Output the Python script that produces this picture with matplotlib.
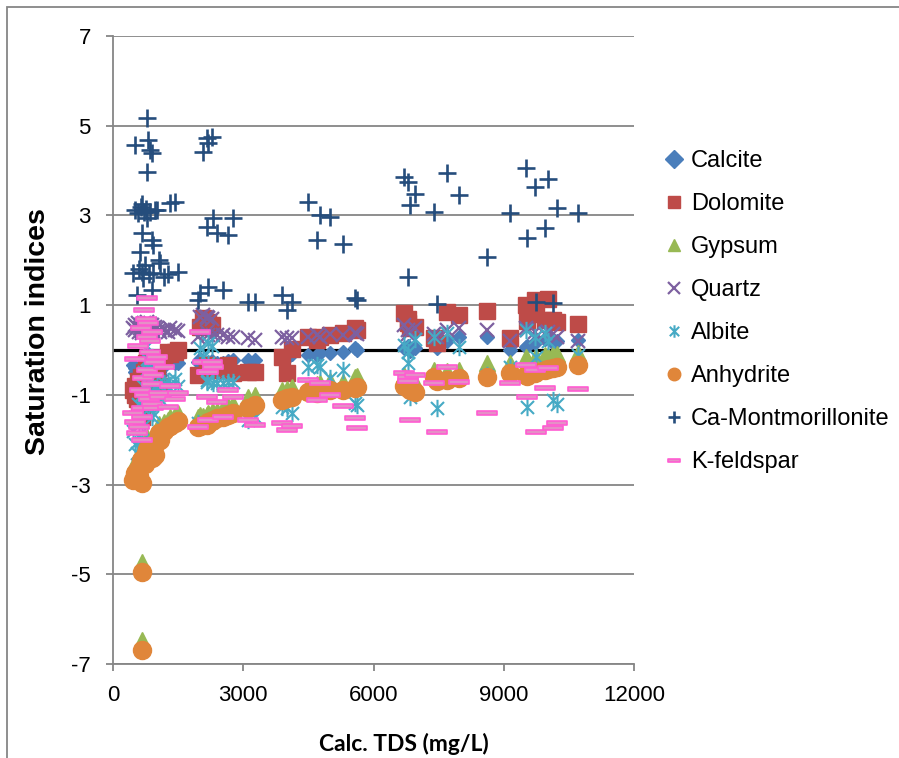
import matplotlib.pyplot as plt
from matplotlib.path import Path
from matplotlib.patches import Rectangle

# one entry per water sample: calculated TDS and saturation index of each mineral
tds = [460, 500, 507, 553, 576, 600, 622, 640, 668, 668, 668, 691, 720, 740, 760,
       783, 783, 783, 806, 820, 852, 852, 898, 898, 898, 921, 921, 967, 1013, 1060, 1082,
       1180, 1270, 1310, 1430, 1500,
       1960, 2004, 2073, 2165, 2188, 2165, 2188, 2280, 2303, 2395, 2533, 2648, 2763,
       3109, 3270, 3892, 4007, 4122,
       4490, 4700, 4770, 5000, 5290, 5580, 5620,
       6700, 6790, 6850, 6960, 6800, 7390, 7460, 7690, 7960, 8610, 9140, 9510, 9530,
       9720, 9740, 9950, 10020, 10130, 10230, 10710]

calcite = [-0.33, -0.50, -0.40, -0.60, -0.45, -0.70, -0.55, -0.35, -0.80, -0.90, -0.65, -0.40, -0.30, -0.50, -0.20,
           -0.45, -0.25, -0.15, -0.35, -0.60, -0.30, -0.40, -0.20, -0.55, -0.65, -0.45, -0.60, -0.40, -0.35, -0.50, -0.55,
           -0.35, -0.25, -0.20, -0.30, -0.28,
           -0.27, -0.20, -0.25, -0.30, -0.28, -0.35, -0.30, -0.25, -0.32, -0.30, -0.28, -0.25, -0.22,
           -0.22, -0.22, -0.22, -0.18, -0.10,
           -0.11, -0.11, -0.07, -0.07, -0.04, 0.04, 0.00,
           0.05, 0.10, -0.02, 0.05, 0.02, 0.20, 0.05, 0.20, 0.29, 0.29, 0.00, 0.07, 0.10,
           0.15, 0.20, 0.25, 0.30, 0.15, 0.20, 0.22]

dolomite = [-0.90, -0.80, -1.00, -1.10, -0.70, -1.20, -0.85, -0.60, -1.40, -1.50, -1.00, -0.70, -0.50, -0.90, -0.30,
            -0.75, -0.40, -0.20, -0.55, -1.00, -0.45, -0.60, -0.35, -0.90, -1.10, -0.75, -1.00, -0.65, -0.50, -0.80, -0.85,
            -0.22, -0.04, -0.10, -0.04, 0.00,
            -0.56, 0.51, 0.71, -0.45, 0.63, -0.33, -0.40, 0.55, -0.45, -0.45, -0.38, -0.33, -0.52,
            -0.49, -0.49, -0.15, -0.52, 0.03,
            0.29, 0.22, 0.29, 0.33, 0.38, 0.49, 0.45,
            0.82, 0.60, 0.50, 0.52, 0.70, 0.27, 0.15, 0.85, 0.78, 0.87, 0.27, 1.00, 0.65,
            1.11, 0.80, 0.67, 1.14, 0.67, 0.62, 0.58]

gypsum = [-2.70, -2.60, -2.50, -2.62, -2.40, -2.55, -2.38, -2.20, -4.72, -6.47, -2.75, -2.30, -2.20, -2.35, -2.10,
          -2.10, -2.00, -1.95, -2.05, -2.15, -2.05, -2.10, -2.00, -2.10, -2.20, -2.05, -2.10, -2.10, -1.85, -1.65, -1.80,
          -1.60, -1.55, -1.50, -1.45, -1.40,
          -1.50, -1.45, -1.48, -1.45, -1.42, -1.45, -1.40, -1.38, -1.38, -1.35, -1.30, -1.25, -1.20,
          -1.05, -1.00, -0.90, -0.88, -0.82,
          -0.78, -0.75, -0.73, -0.70, -0.71, -0.60, -0.58,
          -0.55, -0.62, -0.70, -0.72, -0.65, -0.45, -0.50, -0.47, -0.45, -0.29, -0.29, -0.16, -0.20,
          -0.18, -0.15, -0.12, -0.14, -0.10, -0.09, -0.07]

quartz = [0.50, 0.55, 0.45, 0.52, 0.60, 0.40, 0.48, 0.55, 0.42, 0.38, 0.50, 0.58, 0.60, 0.45, 0.55,
          0.50, 0.62, 0.55, 0.50, 0.45, 0.58, 0.50, 0.55, 0.45, 0.40, 0.48, 0.42, 0.52, 0.50, 0.45, 0.40,
          0.45, 0.40, 0.50, 0.45, 0.42,
          0.29, 0.74, 0.78, 0.74, 0.71, 0.40, 0.33, 0.70, 0.33, 0.33, 0.33, 0.30, 0.29,
          0.27, 0.22, 0.29, 0.27, 0.27,
          0.30, 0.33, 0.30, 0.35, 0.33, 0.38, 0.35,
          0.55, 0.45, 0.40, 0.48, 0.35, 0.35, 0.30, 0.45, 0.50, 0.45, 0.20, 0.50, 0.45,
          0.40, 0.30, 0.35, 0.40, 0.35, 0.30, 0.20]

albite = [-1.80, -2.10, -1.50, -2.30, -1.20, -1.90, -1.40, -1.00, -2.00, -2.20, -1.60, -0.80, -0.50, -1.10, -0.30,
          -0.90, -0.20, 0.10, -0.60, -1.30, -0.40, -0.70, -0.15, -1.20, -1.50, -0.95, -1.40, -0.85, -0.75, -1.00, -1.10,
          -0.74, -0.70, -0.85, -0.65, -0.80,
          -1.63, 0.04, -0.15, -0.71, 0.15, -0.67, -0.30, 0.10, -0.74, -0.74, -0.74, -0.71, -0.71,
          -1.56, -1.50, -1.27, -1.30, -1.40,
          -0.38, -0.33, -0.38, -0.62, -0.44, -1.18, -1.23,
          0.11, -0.05, -1.05, 0.25, -0.30, 0.30, -1.29, 0.38, 0.07, -0.56, -0.38, 0.45, -1.27,
          0.30, -0.15, 0.38, 0.20, -1.11, -1.20, -0.11]

anhydrite = [-2.90, -2.85, -2.75, -2.85, -2.65, -2.80, -2.60, -2.45, -4.95, -6.69, -2.96, -2.55, -2.40, -2.55, -2.30,
             -2.34, -2.25, -2.20, -2.28, -2.40, -2.30, -2.35, -2.25, -2.34, -2.40, -2.30, -2.38, -2.34, -2.05, -1.85, -2.00,
             -1.80, -1.72, -1.70, -1.62, -1.58,
             -1.72, -1.70, -1.67, -1.65, -1.62, -1.67, -1.60, -1.58, -1.55, -1.52, -1.50, -1.45, -1.40,
             -1.29, -1.23, -1.11, -1.07, -1.05,
             -0.93, -0.96, -0.89, -0.89, -0.89, -0.85, -0.82,
             -0.80, -0.85, -0.90, -0.93, -0.82, -0.60, -0.70, -0.67, -0.63, -0.60, -0.52, -0.56, -0.58,
             -0.52, -0.50, -0.44, -0.42, -0.40, -0.37, -0.33]

ca_mont = [1.72, 3.12, 4.57, 1.23, 3.05, 1.80, 2.18, 3.19, 2.61, 1.74, 3.25, 1.60, 3.08, 1.90, 3.15,
           2.94, 3.97, 5.17, 4.68, 1.70, 4.46, 3.08, 4.39, 2.45, 1.34, 2.34, 1.72, 3.12, 3.12, 2.00, 1.94,
           1.63, 1.70, 3.27, 3.30, 1.75,
           1.11, 1.27, 4.41, 4.73, 4.61, 2.74, 1.40, 4.75, 2.94, 2.61, 1.34, 2.56, 2.94,
           1.07, 1.07, 1.23, 0.89, 1.07,
           3.30, 2.45, 3.01, 2.97, 2.36, 1.16, 1.12,
           3.86, 3.75, 3.23, 3.48, 1.63, 3.08, 1.03, 3.95, 3.46, 2.07, 3.05, 4.06, 2.50,
           3.63, 1.07, 2.72, 3.81, 1.05, 3.17, 3.05]

k_feldspar = [-1.40, -1.60, -0.20, -1.85, 0.10, -1.72, -0.89, 0.50, -2.00, -1.50, -1.29, -0.62, 0.89, -1.00, 0.70,
              -0.45, 0.30, 1.16, 0.60, -1.10, 0.20, -0.04, 0.40, -0.75, -1.20, -0.55, -1.29, -0.27, -0.15, -0.95, -1.05,
              -0.38, -1.27, -0.80, -1.10, -0.95,
              -1.72, 0.40, -0.27, -0.49, -1.56, -1.05, -0.49, -0.27, -0.38, -1.16, -1.49, -0.89, -1.05,
              -1.56, -1.67, -1.63, -1.78, -1.70,
              -0.67, -1.11, -0.73, -1.00, -1.25, -1.52, -1.74,
              -0.52, -0.60, -1.56, -0.55, -0.70, -0.73, -1.83, -0.38, -0.71, -1.40, -0.73, -0.33, -1.05,
              -0.45, -1.83, -0.85, -0.40, -1.74, -1.63, -0.87]

asterisk = Path([(0, -1), (0, 1), (-0.75, -0.75), (0.75, 0.75), (-0.75, 0.75), (0.75, -0.75)],
                [Path.MOVETO, Path.LINETO, Path.MOVETO, Path.LINETO, Path.MOVETO, Path.LINETO])
dash = Path([(-1, -0.24), (1, -0.24), (1, 0.24), (-1, 0.24), (-1, -0.24)],
            [Path.MOVETO, Path.LINETO, Path.LINETO, Path.LINETO, Path.CLOSEPOLY])

plt.rcParams['font.family'] = ['Liberation Sans', 'DejaVu Sans']
plt.rcParams['axes.unicode_minus'] = False

fig = plt.figure(figsize=(8.99, 7.58), dpi=100)
fig.patches.append(Rectangle((7 / 899, -0.1), 1.2, 1 - 7 / 758 + 0.1, transform=fig.transFigure,
                             fill=False, edgecolor='#868686', linewidth=1.3))
ax = fig.add_axes([113 / 899, 1 - 664 / 758, 521 / 899, 628 / 758])

ax.axhline(0, color='black', linewidth=2.3, zorder=1)

ax.plot(tds, calcite, 'D', ms=7.5, color='#4A7EBB', mec='#4A7EBB', label='Calcite', zorder=3)
ax.plot(tds, dolomite, 's', ms=11, color='#BE4B48', mec='#BE4B48', label='Dolomite', zorder=3)
ax.plot(tds, gypsum, '^', ms=11, color='#98B954', mec='#98B954', label='Gypsum', zorder=3)
ax.plot(tds, quartz, 'x', ms=10.5, mew=1.6, color='#7D60A0', label='Quartz', zorder=3)
ax.plot(tds, albite, marker=asterisk, ls='none', ms=12.5, mew=1.5, mfc='none', color='#46AAC5',
        label='Albite', zorder=3)
ax.plot(tds, anhydrite, 'o', ms=13, color='#E0863A', mec='#E0863A', label='Anhydrite', zorder=3)
ax.plot(tds, ca_mont, '+', ms=12.5, mew=1.9, color='#254D7C', label='Ca-Montmorillonite', zorder=3)
ax.plot(tds, k_feldspar, marker=dash, ls='none', ms=14.5, mew=1.2, mfc='#E58FC6', mec='#FF5CD2',
        label='K-feldspar', zorder=3)

ax.set_xlim(0, 12000)
ax.set_ylim(-7, 7)
ax.set_xticks([0, 3000, 6000, 9000, 12000])
ax.set_yticks([7, 5, 3, 1, -1, -3, -5, -7])
ax.grid(axis='y', color='#868686', linewidth=1.3, zorder=0)
ax.set_axisbelow(True)
for s in ['top', 'right']:
    ax.spines[s].set_visible(False)
for s in ['left', 'bottom']:
    ax.spines[s].set_color('#868686')
    ax.spines[s].set_linewidth(1.3)
ax.tick_params(direction='out', length=5, width=1.3, color='#868686', labelsize=16)
ax.tick_params(axis='x', pad=10)
ax.tick_params(axis='y', pad=11)

ax.set_ylabel('Saturation indices', fontsize=20.5, fontweight='bold')
ax.yaxis.set_label_coords((51 - 113) / 521, (664 - 332) / 628)
ax.set_xlabel('Calc. TDS (mg/L)', fontsize=16.5, fontweight='bold', family=['Lato', 'DejaVu Sans'])
ax.xaxis.set_label_coords((404 - 113) / 521, -(733 - 664) / 628)

leg = ax.legend(loc='upper left', bbox_to_anchor=(665 / 899, 1 - 150 / 758), bbox_transform=fig.transFigure,
                frameon=False, fontsize=17, handlelength=0.8, handletextpad=0.3, labelspacing=0.89,
                borderaxespad=0, borderpad=0)
for h in leg.legend_handles:
    h.set_markersize(9)

fig.savefig('out.png', dpi=100)
